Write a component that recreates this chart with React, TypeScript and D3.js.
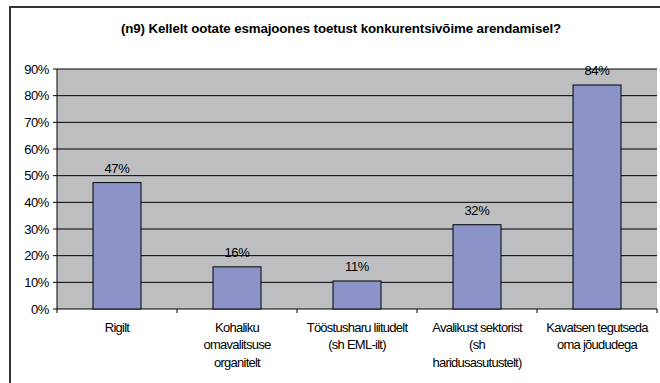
import React from "react";
import * as d3 from "d3";

const title = "(n9) Kellelt ootate esmajoones toetust konkurentsivõime arendamisel?";
const categories: string[][] = [
  ["Rigilt"],
  ["Kohaliku", "omavalitsuse", "organitelt"],
  ["Tööstusharu liitudelt", "(sh EML-ilt)"],
  ["Avalikust sektorist", "(sh", "haridusasutustelt)"],
  ["Kavatsen tegutseda", "oma jõududega"],
];
const values = [0.474, 0.158, 0.105, 0.316, 0.84];
const yTicks = [0, 0.1, 0.2, 0.3, 0.4, 0.5, 0.6, 0.7, 0.8, 0.9];

const W = 660;
const H = 383;
const plot = { left: 57, right: 657, top: 69, bottom: 309 };
const font = "'Liberation Sans', Arial, sans-serif";

export default function App() {
  const x = d3
    .scaleBand<number>()
    .domain(d3.range(categories.length))
    .range([plot.left, plot.right])
    .paddingInner(0.6)
    .paddingOuter(0.3);
  const step = (plot.right - plot.left) / categories.length;
  const y = d3.scaleLinear().domain([0, 0.9]).range([plot.bottom, plot.top]);
  const pct = d3.format(".0%");

  return (
    <svg
      width={W}
      height={H}
      style={{ position: "absolute", left: 0, top: 0, background: "#fff" }}
      fontFamily={font}
    >
      <rect x={10} y={7} width={W + 20} height={H + 20} fill="#fff" stroke="#333" strokeWidth={2} />
      <text x={341} y={33} textAnchor="middle" fontSize={13.3} fontWeight="bold" fill="#000" letterSpacing={-0.1}>
        {title}
      </text>
      <rect
        x={plot.left}
        y={plot.top}
        width={plot.right - plot.left}
        height={plot.bottom - plot.top}
        fill="#BCBEC0"
      />
      {yTicks.map((t) => (
        <g key={t}>
          <line x1={plot.left - 4} x2={plot.right} y1={y(t)} y2={y(t)} stroke="#000" strokeWidth={1} />
          <text x={49} y={y(t) + 4.5} textAnchor="end" fontSize={13} fill="#000" letterSpacing={-0.4}>
            {pct(t)}
          </text>
        </g>
      ))}
      <line x1={plot.left} x2={plot.left} y1={plot.top} y2={plot.bottom} stroke="#000" />
      {d3.range(categories.length + 1).map((i) => (
        <line
          key={i}
          x1={plot.left + i * step}
          x2={plot.left + i * step}
          y1={plot.bottom}
          y2={plot.bottom + 4}
          stroke="#000"
        />
      ))}
      {values.map((v, i) => (
        <g key={i}>
          <rect
            x={x(i)!}
            y={y(v)}
            width={x.bandwidth()}
            height={y(0) - y(v)}
            fill="#8C93C8"
            stroke="#000"
            strokeWidth={1}
          />
          <text
            x={x(i)! + x.bandwidth() / 2}
            y={y(v) - 10}
            textAnchor="middle"
            fontSize={13}
            fill="#000"
            letterSpacing={-0.3}
          >
            {pct(v)}
          </text>
        </g>
      ))}
      {categories.map((lines, i) => (
        <text
          key={i}
          x={plot.left + (i + 0.5) * step}
          textAnchor="middle"
          fontSize={13}
          fill="#000"
          letterSpacing={-0.75}
        >
          {lines.map((l, j) => (
            <tspan key={j} x={plot.left + (i + 0.5) * step} y={331.5 + j * 17.5}>
              {l}
            </tspan>
          ))}
        </text>
      ))}
    </svg>
  );
}
